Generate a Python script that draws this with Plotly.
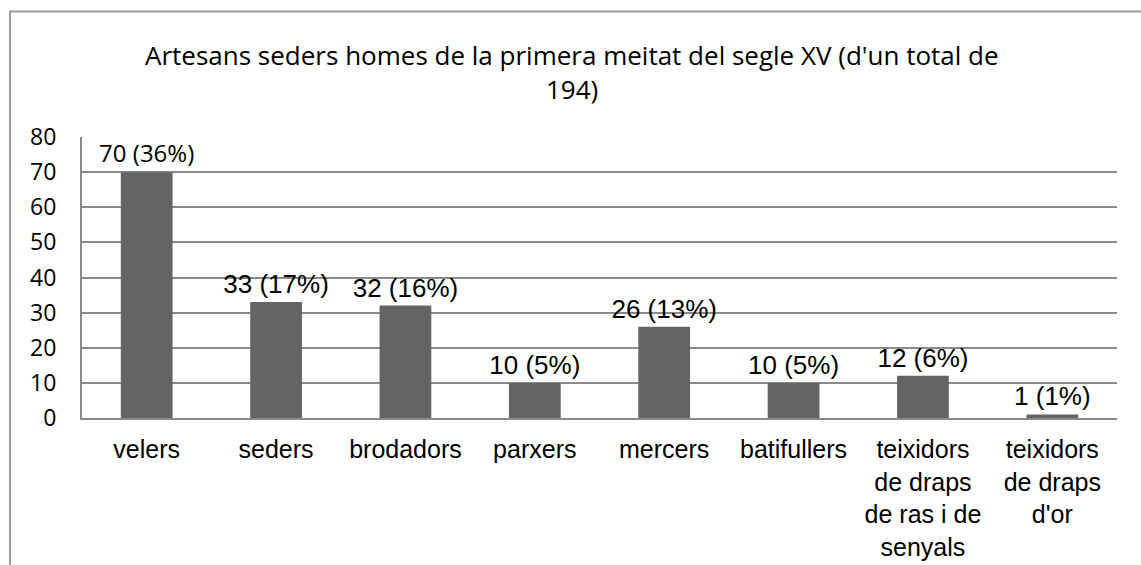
import plotly.graph_objects as go

categories = ["velers", "seders", "brodadors", "parxers", "mercers", "batifullers",
              "teixidors<br>de draps<br>de ras i de<br>senyals", "teixidors<br>de draps<br>d'or"]
values = [70, 33, 32, 10, 26, 10, 12, 1]
percents = [36, 17, 16, 5, 13, 5, 6, 1]
y_ticks = [0, 10, 20, 30, 40, 50, 60, 70, 80]
title_lines = ["Artesans seders homes de la primera meitat del segle XV (d'un total de", "194)"]

labels = [f"{v} ({p}%)" for v, p in zip(values, percents)]
label_fonts = ["Open Sans"] + ["Liberation Sans"] * (len(values) - 1)
label_sizes = [24] + [26] * (len(values) - 1)

W, H = 1141, 565
L, R, T, B = 82, 24, 137, 147
pw, ph = W - L - R, H - T - B

def px_x(x):
    return (x - L) / pw

def px_y(y):
    return (H - B - y) / ph

fig = go.Figure(go.Bar(
    x=list(range(len(categories))), y=values,
    marker=dict(color="#646464", line=dict(width=0)),
    text=labels, textposition="outside", cliponaxis=False, constraintext="none",
    textfont=dict(family=label_fonts, size=label_sizes, color="#000000"),
    hoverinfo="skip",
))

fig.update_layout(
    width=W, height=H,
    margin=dict(l=L, r=R, t=T, b=B, autoexpand=False),
    paper_bgcolor="white", plot_bgcolor="white",
    showlegend=False, bargap=0.6,
    xaxis=dict(
        tickmode="array", tickvals=list(range(len(categories))), ticktext=categories,
        range=[-0.5, len(categories) - 0.5], showgrid=False, zeroline=False,
        showline=True, linecolor="#8a8a8a", linewidth=2, ticks="", automargin=False,
        tickfont=dict(family="Liberation Sans", size=25, color="#000000"),
        tickangle=0, ticklabelstandoff=8,
    ),
    yaxis=dict(
        range=[0, 80], tickvals=y_ticks, showgrid=True, gridcolor="#8a8a8a", gridwidth=1.5,
        zeroline=False, showline=True, linecolor="#8a8a8a", linewidth=2, ticks="",
        tickfont=dict(family="Open Sans", size=23, color="#000000"),
        ticklabelstandoff=19, automargin=False,
    ),
    shapes=[dict(type="rect", xref="paper", yref="paper",
                 x0=px_x(10), x1=px_x(1150), y0=px_y(580), y1=px_y(11.5),
                 line=dict(color="#9a9a9a", width=2), fillcolor="rgba(0,0,0,0)", layer="below")],
    annotations=[
        dict(text=title_lines[0], xref="paper", yref="paper", x=px_x(572), y=px_y(55),
             xanchor="center", yanchor="middle", showarrow=False,
             font=dict(family="Open Sans", size=26, color="#000000")),
        dict(text=title_lines[1], xref="paper", yref="paper", x=px_x(572), y=px_y(89),
             xanchor="center", yanchor="middle", showarrow=False,
             font=dict(family="Open Sans", size=26, color="#000000")),
    ],
)

fig.write_html("out.html", config={"displayModeBar": False},
               post_script="document.body.style.margin='0';document.body.style.overflow='hidden';")
